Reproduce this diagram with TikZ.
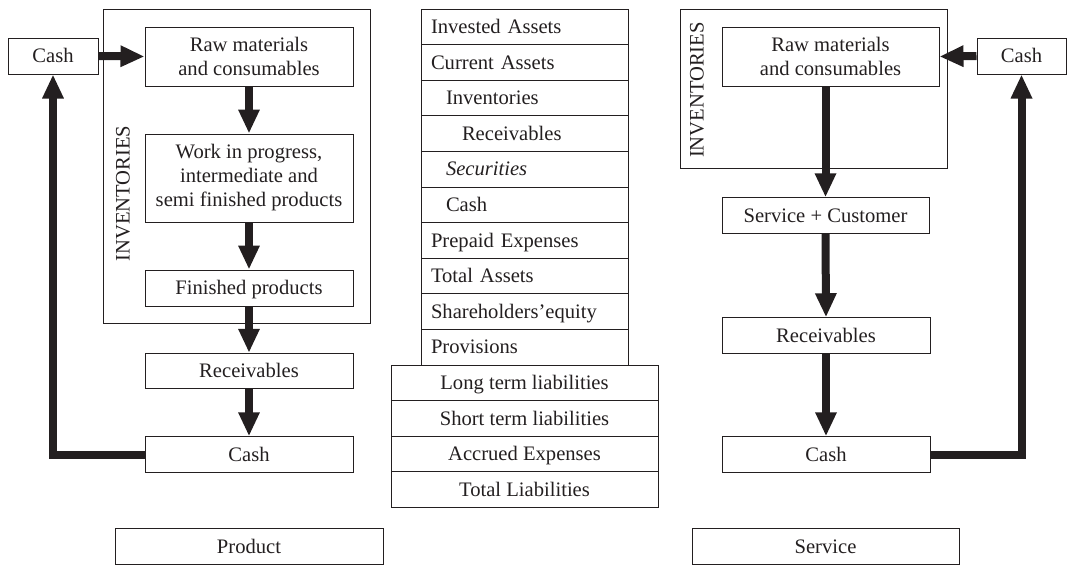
\documentclass[tikz,border=0pt]{standalone}
\usepackage{fontspec}
\setmainfont{Liberation Serif}
\usepackage{tikz}
\usetikzlibrary{positioning, arrows.meta}
\definecolor{ink}{RGB}{35,31,32}
\tikzstyle{flow} = [line width=8pt, draw=ink, line join=miter, -{Triangle[width=20pt,length=24pt]}]
\newcommand{\boxfont}{\fontsize{20.6}{24}\selectfont}

\begin{document}
\begin{tikzpicture}[x=1pt, y=-1pt, font=\boxfont, text=ink,
stepnode/.style={rectangle, draw=ink, line width=1pt, minimum width=208pt, minimum height=35.5pt, inner sep=0pt, align=center},
linenode/.style={stepnode, text height=16.5pt, text depth=3pt},
holdnode/.style={rectangle, draw=ink, line width=0.9pt, inner sep=0pt},
rownode/.style={rectangle, draw=ink, line width=1pt, outer sep=0pt, minimum height=35.6pt, inner ysep=0pt, text width=187pt, inner xsep=10pt, align=left, text height=16.5pt, text depth=3pt},
widerow/.style={rectangle, draw=ink, line width=1pt, outer sep=0pt, minimum height=35.6pt, minimum width=267pt, inner sep=0pt, align=center, text height=16.5pt, text depth=3pt},]
\useasboundingbox (0,0) rectangle (1069,565);

%Product side
\node[holdnode, minimum width=267pt, minimum height=314pt] (invA) at (236.5,166) {};
\node[rotate=90]      (invAlabel)  at (123,193.5) {INVENTORIES};
\node[linenode, minimum width=90pt, minimum height=36pt]      (cashA)  at (53,56) {Cash};
\node[stepnode, minimum height=59pt]      (rawA)  at (249,56.5) {Raw materials\\and consumables};
\node[stepnode, minimum height=88pt]      (wip)  at (249,178) {Work in progress,\\intermediate and\\semi finished products};
\node[linenode, minimum height=36pt]      (fin)  at (249,288) {Finished products};
\node[linenode]      (recA)  at (249,371) {Receivables};
\node[linenode]      (cashB)  at (249,454.5) {Cash};
\node[linenode, minimum width=268pt]      (product)  at (249,546.5) {Product};

%Balance sheet
\node[rownode, anchor=north]      (invest)  at (524.5,9) {Invested Assets};
\node[rownode, below=0pt of invest]      (current)  {Current Assets};
\node[rownode, below=0pt of current]      (stock)  {\hspace*{15pt}Inventories};
\node[rownode, below=0pt of stock]      (receiv)  {\hspace*{31pt}Receivables};
\node[rownode, below=0pt of receiv]      (secur)  {\hspace*{15pt}\textit{Securities}};
\node[rownode, below=0pt of secur]      (money)  {\hspace*{15pt}Cash};
\node[rownode, below=0pt of money]      (prepaid)  {Prepaid Expenses};
\node[rownode, below=0pt of prepaid]      (totassets)  {Total Assets};
\node[rownode, below=0pt of totassets]      (equity)  {Shareholders'equity};
\node[rownode, below=0pt of equity]      (provis)  {Provisions};
\node[widerow, below=0pt of provis]      (longterm)  {Long term liabilities};
\node[widerow, below=0pt of longterm]      (shortterm)  {Short term liabilities};
\node[widerow, below=0pt of shortterm]      (accrued)  {Accrued Expenses};
\node[widerow, below=0pt of accrued]      (totliab)  {Total Liabilities};

%Service side
\node[holdnode, minimum width=267pt, minimum height=159pt] (invB) at (813.5,88.5) {};
\node[rotate=90]      (invBlabel)  at (697,90) {INVENTORIES};
\node[stepnode, minimum width=217pt, minimum height=59pt]      (rawB)  at (830.5,56.5) {Raw materials\\and consumables};
\node[linenode, minimum width=89pt, minimum height=36pt]      (cashC)  at (1021.5,56) {Cash};
\node[linenode, minimum width=207pt]      (svc)  at (825.5,215.5) {Service + Customer};
\node[linenode]      (recB)  at (826,335.5) {Receivables};
\node[linenode]      (cashD)  at (826,454.5) {Cash};
\node[linenode, minimum width=267pt]      (service)  at (825.5,546.5) {Service};

%Lines
\draw[flow] (cashA.east) -- (rawA.west);
\draw[flow] (rawA.south) -- (wip.north);
\draw[flow] (wip.south) -- (fin.north);
\draw[flow] (fin.south) -- (recA.north);
\draw[flow] (recA.south) -- (cashB.north);
\draw[flow] (cashB.west) -| (cashA.south);

\draw[flow] (cashC.west) -- (rawB.east);
\draw[flow] (svc.north |- rawB.south) -- (svc.north);
\draw[flow] (svc.south) -- (recB.north);
\draw[flow] (recB.south) -- (cashD.north);
\draw[flow] (cashD.east) -| (cashC.south);
\end{tikzpicture}
\end{document}
